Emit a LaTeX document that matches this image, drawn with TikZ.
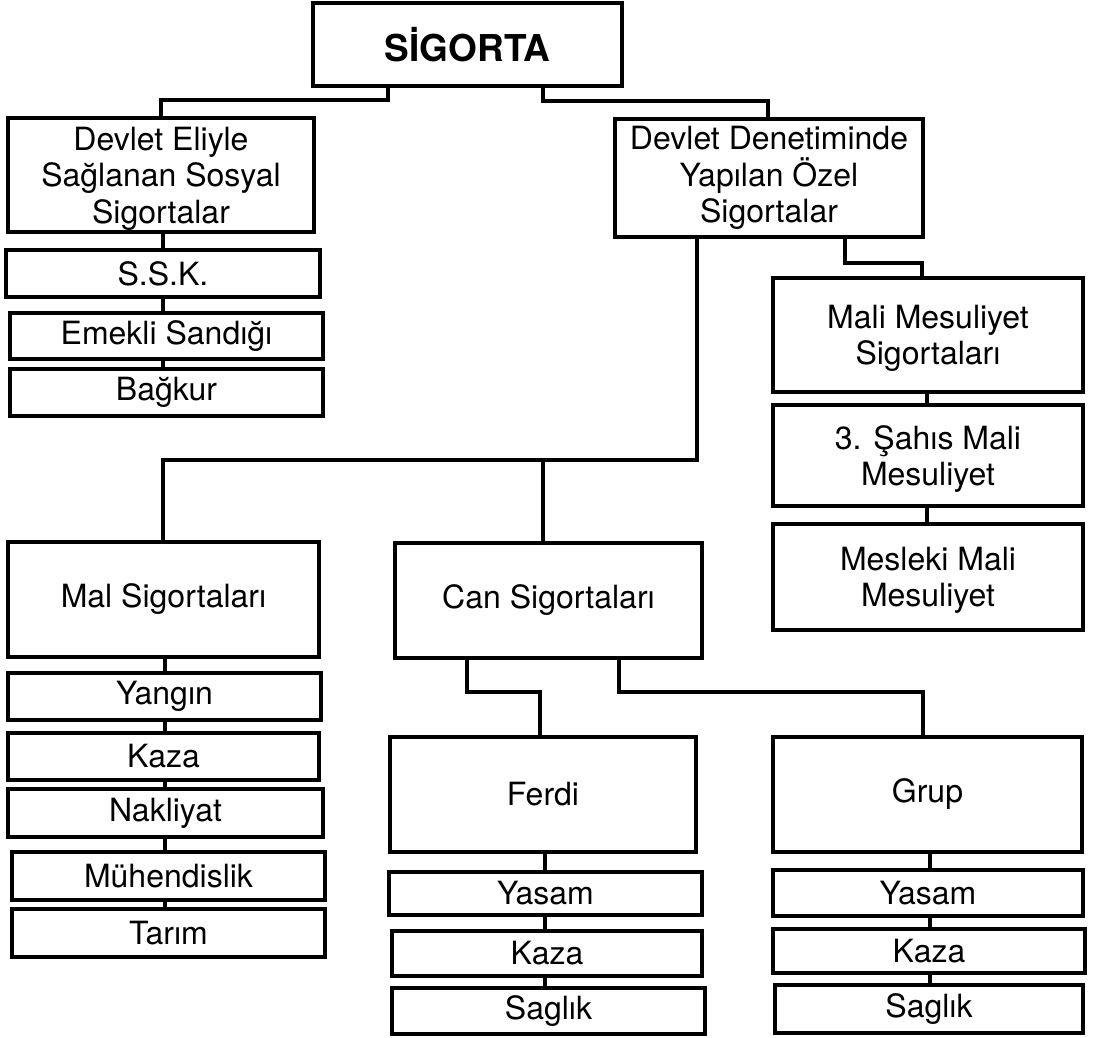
\documentclass[tikz,border=0pt]{standalone}
\usepackage{fontspec}
\setmainfont{TeX Gyre Heros}
\begin{document}
\begin{tikzpicture}[x=1pt,y=-1pt,
  box/.style={draw, line width=4.5pt, fill=white, inner sep=0pt, outer sep=0pt,
    align=center, font=\fontsize{32}{36.5}\selectfont},
  lowtext/.style={text depth=#1},
  conn/.style={line width=4pt}]
\useasboundingbox (0,0) rectangle (1097,1037);

% top
\node[box, minimum width=309pt, minimum height=83pt, font=\fontsize{37}{44}\selectfont\bfseries] (sig) at (467.5,44.5) {SİGORTA};
\node[box, minimum width=306pt, minimum height=114pt, lowtext=-1pt] (eli) at (161,175) {Devlet Eliyle\\Sağlanan Sosyal\\Sigortalar};
\node[box, minimum width=308pt, minimum height=118pt] (den) at (769,178) {Devlet Denetiminde\\Yapılan Özel\\Sigortalar};

% left social column
\node[box, minimum width=314pt, minimum height=47pt] (ssk) at (163,273.5) {S.S.K.};
\node[box, minimum width=313pt, minimum height=46pt] (eme) at (166.5,336) {Emekli Sandığı};
\node[box, minimum width=313pt, minimum height=47pt] (bag) at (166.5,392.5) {Bağkur};

% right liability column
\node[box, minimum width=310pt, minimum height=114pt, lowtext=-6pt] (mali) at (928,335) {Mali Mesuliyet\\Sigortaları};
\node[box, minimum width=310pt, minimum height=101pt, lowtext=-7pt] (sahis) at (928,455.5) {3. Şahıs Mali\\Mesuliyet};
\node[box, minimum width=310pt, minimum height=106pt, lowtext=-5pt] (mesleki) at (928,577) {Mesleki Mali\\Mesuliyet};

% middle level
\node[box, minimum width=311pt, minimum height=115pt] (mal) at (163.5,599.5) {Mal Sigortaları};
\node[box, minimum width=307pt, minimum height=115pt] (can) at (548.5,600.5) {Can Sigortaları};

% property column
\node[box, minimum width=313pt, minimum height=47pt] (yangin) at (164.5,696.5) {Yangın};
\node[box, minimum width=311pt, minimum height=47pt] (kaza) at (163.5,756.5) {Kaza};
\node[box, minimum width=315pt, minimum height=48pt] (nak) at (165.5,813) {Nakliyat};
\node[box, minimum width=313pt, minimum height=48pt] (muh) at (168.5,876) {Mühendislik};
\node[box, minimum width=313pt, minimum height=48pt] (tarim) at (168.5,933) {Tarım};

% life
\node[box, minimum width=306pt, minimum height=115pt] (ferdi) at (543,794.5) {Ferdi};
\node[box, minimum width=309pt, minimum height=115pt] (grup) at (927.5,794.5) {Grup};
\node[box, minimum width=313pt, minimum height=43pt] (fy) at (545.5,893.5) {Yasam};
\node[box, minimum width=310pt, minimum height=45pt] (fk) at (547,953.5) {Kaza};
\node[box, minimum width=313pt, minimum height=46pt] (fs) at (548.5,1011) {Saglık};
\node[box, minimum width=310pt, minimum height=46pt] (gy) at (928,893) {Yasam};
\node[box, minimum width=312pt, minimum height=44pt] (gk) at (929,951) {Kaza};
\node[box, minimum width=308pt, minimum height=48pt] (gs) at (929,1009) {Saglık};

% helper coordinates
\coordinate (lx) at (163,0);
\coordinate (mx) at (165,0);
\coordinate (fx) at (545,0);
\coordinate (gx) at (930,0);
\coordinate (mlx) at (927,0);
\coordinate (jL) at (163,460);
\coordinate (jR) at (697,460);

% connectors
\draw[conn] ([xshift=-79.5pt]sig.south) -- ++(0,14) -| (eli.north);
\draw[conn] ([xshift=75.5pt]sig.south) -- ++(0,15) -| ([xshift=-1pt]den.north);

\draw[conn] (eli.south -| lx) -- (ssk.north -| lx);
\draw[conn] (ssk.south -| lx) -- (eme.north -| lx);
\draw[conn] (eme.south -| lx) -- (bag.north -| lx);

\draw[conn] ([xshift=76pt]den.south) -- ++(0,26) -| ([xshift=-6pt]mali.north);
\draw[conn] (mali.south -| mlx) -- (sahis.north -| mlx);
\draw[conn] (sahis.south -| mlx) -- (mesleki.north -| mlx);

\draw[conn] ([xshift=-72pt]den.south) -- (jR) -- (jL) -- (mal.north -| jL);
\draw[conn] ([xshift=-5.5pt]can.north) -- ([xshift=-5.5pt]can.north |- jL);

\draw[conn] (mal.south -| mx) -- (yangin.north -| mx);
\draw[conn] (yangin.south -| mx) -- (kaza.north -| mx);
\draw[conn] (kaza.south -| mx) -- (nak.north -| mx);
\draw[conn] (nak.south -| mx) -- (muh.north -| mx);
\draw[conn] (muh.south -| mx) -- (tarim.north -| mx);

\draw[conn] ([xshift=-81.5pt]can.south) -- ++(0,34) -| ([xshift=-3pt]ferdi.north);
\draw[conn] ([xshift=70pt]can.south) -- ++(0,34) -| ([xshift=-5pt]grup.north);

\draw[conn] (ferdi.south -| fx) -- (fy.north -| fx);
\draw[conn] (fy.south -| fx) -- (fk.north -| fx);
\draw[conn] (fk.south -| fx) -- (fs.north -| fx);
\draw[conn] (grup.south -| gx) -- (gy.north -| gx);
\draw[conn] (gy.south -| gx) -- (gk.north -| gx);
\draw[conn] (gk.south -| gx) -- (gs.north -| gx);
\end{tikzpicture}
\end{document}
